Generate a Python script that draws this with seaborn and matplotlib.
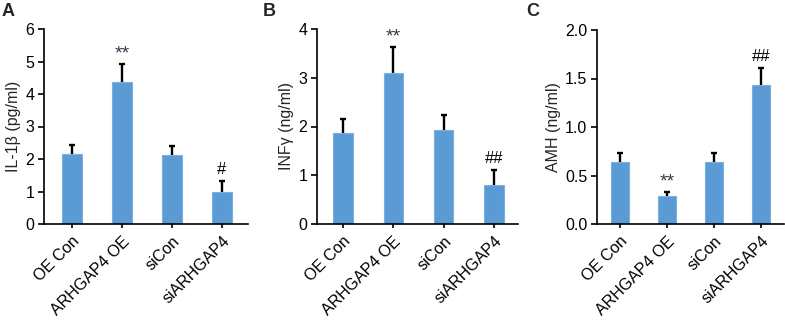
import matplotlib
matplotlib.use("Agg")
import matplotlib.pyplot as plt
import seaborn as sns
import pandas as pd

sns.set_theme(style="white")
plt.rcParams['font.family'] = ['Liberation Sans', 'DejaVu Sans']

groups = ["OE Con", "ARHGAP4 OE", "siCon", "siARHGAP4"]

il1b_mean = [2.14, 4.37, 2.11, 1.00]
il1b_err = [0.30, 0.55, 0.29, 0.33]
il1b_marks = ["", "**", "", "#"]

infg_mean = [1.86, 3.10, 1.92, 0.79]
infg_err = [0.30, 0.54, 0.31, 0.31]
infg_marks = ["", "**", "", "##"]

amh_mean = [0.64, 0.29, 0.64, 1.43]
amh_err = [0.09, 0.04, 0.09, 0.18]
amh_marks = ["", "**", "", "##"]

ylabels = ["IL-1β (pg/ml)", "INFγ (ng/ml)", "AMH (ng/ml)"]
letters = ["A", "B", "C"]
yticks = [[0, 1, 2, 3, 4, 5, 6], [0, 1, 2, 3, 4], [0.0, 0.5, 1.0, 1.5, 2.0]]
yticklabels = [["0", "1", "2", "3", "4", "5", "6"],
               ["0", "1", "2", "3", "4"],
               ["0.0", "0.5", "1.0", "1.5", "2.0"]]

W, H = 785, 320
fig = plt.figure(figsize=(W / 100, H / 100), dpi=100)

# axes pixel boxes: left, right, top, bottom
boxes = [(44, 248, 29, 224), (317, 518, 29, 224), (597, 784, 30, 224)]
xlims = [(-0.56, 3.52), (-0.52, 3.48), (-0.49, 3.49)]
letter_x = [2, 263, 526]

bar_color = "#5B9BD5"
edge_color = "#7DB0E0"
fs = 11.5

datasets = [(il1b_mean, il1b_err, il1b_marks),
            (infg_mean, infg_err, infg_marks),
            (amh_mean, amh_err, amh_marks)]

for i, (means, errs, marks) in enumerate(datasets):
    l, r, t, b = boxes[i]
    ax = fig.add_axes([l / W, 1 - b / H, (r - l) / W, (b - t) / H])
    df = pd.DataFrame({"group": groups, "value": means})
    sns.barplot(data=df, x="group", y="value", order=groups, color=bar_color,
                width=0.39, errorbar=None, edgecolor=edge_color, linewidth=0.8,
                saturation=1, ax=ax)
    xs = [p.get_x() + p.get_width() / 2 for p in ax.patches]
    _, caps, _ = ax.errorbar(xs, means, yerr=[[0] * len(errs), errs], fmt="none",
                             ecolor="black", elinewidth=1.7, capsize=2.3,
                             capthick=1.7, zorder=3)
    # keep only the upper cap
    caps[0].remove()
    for x, m, e, s in zip(xs, means, errs, marks):
        if s:
            star = s.startswith("*")
            ax.annotate(s, (x, m + e), xytext=(0, 1 if star else 3),
                        textcoords="offset points",
                        ha="center", va="bottom", fontsize=14 if star else 12,
                        color="#3a3a4a" if star else "black")
    ax.set_xlim(*xlims[i])
    ax.set_ylim(yticks[i][0], yticks[i][-1])
    ax.set_yticks(yticks[i])
    ax.set_yticklabels(yticklabels[i], fontsize=fs)
    ax.set_xticks(range(len(groups)))
    ax.set_xticklabels(groups, rotation=45, ha="right", rotation_mode="anchor",
                       fontsize=fs)
    ax.set_xlabel("")
    ax.set_ylabel(ylabels[i], fontsize=fs, labelpad=3)
    for side in ["top", "right"]:
        ax.spines[side].set_visible(False)
    for side in ["left", "bottom"]:
        ax.spines[side].set_color("black")
        ax.spines[side].set_linewidth(1.2)
    ax.tick_params(axis="y", direction="out", length=4, width=1.2, color="black",
                   left=True, pad=3, labelcolor="black")
    ax.tick_params(axis="x", direction="out", length=3, width=1.2, color="black",
                   bottom=True, pad=4, labelcolor="black")
    fig.text(letter_x[i] / W, 1 - 3 / H, letters[i], fontsize=13,
             fontweight="bold", ha="left", va="top")

fig.savefig("out.png", dpi=100)
